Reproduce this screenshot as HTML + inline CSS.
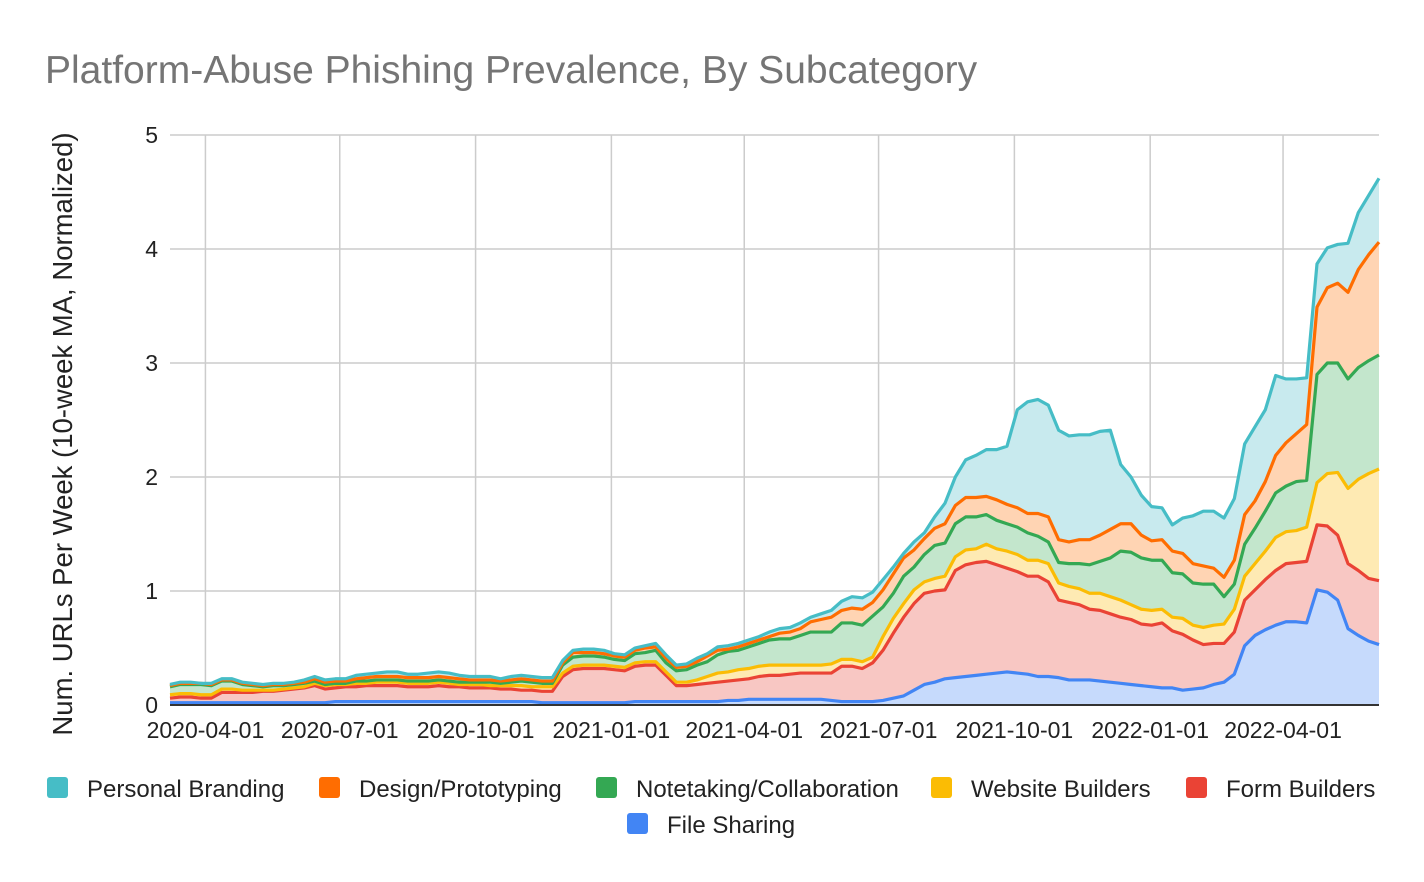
<!DOCTYPE html>
<html><head><meta charset="utf-8"><style>
body{margin:0;background:#fff;width:1424px;height:882px;overflow:hidden;font-family:"Liberation Sans",Arial,sans-serif;}
svg{display:block}
</style></head><body>
<svg id="chart" width="1424" height="882" xmlns="http://www.w3.org/2000/svg">
<text x="45" y="83" font-size="39" fill="#757575" font-family="Liberation Sans, sans-serif">Platform-Abuse Phishing Prevalence, By Subcategory</text>
<text transform="translate(72,434) rotate(-90)" text-anchor="middle" font-size="27.5" fill="#222" font-family="Liberation Sans, sans-serif">Num. URLs Per Week (10-week MA, Normalized)</text>
<g id="grid"></g><g id="areas"></g><g id="lines"></g><g id="axes"></g><g id="legend"></g>
</svg>
<script>
const startDate = "2020-03-08";
const yTickValues = [0,1,2,3,4,5];
const xTickLabels = ["2020-04-01","2020-07-01","2020-10-01","2021-01-01","2021-04-01","2021-07-01","2021-10-01","2022-01-01","2022-04-01"];
const seriesNames = ["File Sharing","Form Builders","Website Builders","Notetaking/Collaboration","Design/Prototyping","Personal Branding"];
const fileSharing = [0.02,0.02,0.02,0.02,0.02,0.02,0.02,0.02,0.02,0.02,0.02,0.02,0.02,0.02,0.02,0.02,0.03,0.03,0.03,0.03,0.03,0.03,0.03,0.03,0.03,0.03,0.03,0.03,0.03,0.03,0.03,0.03,0.03,0.03,0.03,0.03,0.02,0.02,0.02,0.02,0.02,0.02,0.02,0.02,0.02,0.03,0.03,0.03,0.03,0.03,0.03,0.03,0.03,0.03,0.04,0.04,0.05,0.05,0.05,0.05,0.05,0.05,0.05,0.05,0.04,0.03,0.03,0.03,0.03,0.04,0.06,0.08,0.13,0.18,0.20,0.23,0.24,0.25,0.26,0.27,0.28,0.29,0.28,0.27,0.25,0.25,0.24,0.22,0.22,0.22,0.21,0.20,0.19,0.18,0.17,0.16,0.15,0.15,0.13,0.14,0.15,0.18,0.20,0.27,0.52,0.61,0.66,0.70,0.73,0.73,0.72,1.01,0.99,0.92,0.67,0.61,0.56,0.53];
const formBuilders = [0.04,0.05,0.05,0.04,0.04,0.09,0.09,0.09,0.09,0.10,0.10,0.11,0.12,0.13,0.15,0.12,0.12,0.13,0.13,0.14,0.14,0.14,0.14,0.13,0.13,0.13,0.14,0.13,0.13,0.12,0.12,0.12,0.11,0.11,0.10,0.10,0.10,0.10,0.23,0.29,0.30,0.30,0.30,0.29,0.28,0.31,0.32,0.32,0.23,0.14,0.14,0.15,0.16,0.17,0.17,0.18,0.18,0.20,0.21,0.21,0.22,0.23,0.23,0.23,0.24,0.31,0.31,0.29,0.34,0.44,0.57,0.69,0.76,0.80,0.80,0.78,0.94,0.98,0.99,0.99,0.95,0.91,0.89,0.86,0.88,0.83,0.68,0.68,0.66,0.62,0.62,0.60,0.58,0.57,0.54,0.54,0.57,0.50,0.49,0.43,0.38,0.36,0.34,0.37,0.40,0.40,0.44,0.48,0.51,0.52,0.54,0.57,0.58,0.57,0.57,0.57,0.55,0.56];
const websiteBuilders = [0.03,0.03,0.03,0.03,0.03,0.03,0.03,0.02,0.02,0.01,0.01,0.01,0.01,0.01,0.02,0.03,0.03,0.02,0.03,0.02,0.03,0.03,0.03,0.03,0.03,0.03,0.03,0.03,0.02,0.03,0.03,0.02,0.03,0.03,0.04,0.03,0.04,0.04,0.03,0.03,0.03,0.03,0.03,0.03,0.03,0.03,0.03,0.03,0.03,0.03,0.03,0.04,0.06,0.08,0.08,0.09,0.09,0.09,0.09,0.09,0.08,0.07,0.07,0.07,0.08,0.06,0.06,0.06,0.05,0.12,0.13,0.12,0.12,0.10,0.11,0.12,0.12,0.13,0.12,0.15,0.14,0.15,0.15,0.14,0.14,0.16,0.15,0.14,0.14,0.14,0.15,0.15,0.15,0.13,0.13,0.13,0.12,0.12,0.14,0.13,0.15,0.16,0.17,0.20,0.21,0.23,0.25,0.29,0.28,0.28,0.30,0.37,0.46,0.55,0.66,0.80,0.92,0.98];
const notetaking = [0.07,0.08,0.08,0.09,0.08,0.07,0.07,0.05,0.04,0.03,0.04,0.03,0.03,0.03,0.02,0.01,0.01,0.01,0.02,0.02,0.02,0.02,0.02,0.02,0.02,0.02,0.02,0.02,0.02,0.02,0.02,0.03,0.02,0.03,0.04,0.04,0.03,0.03,0.07,0.08,0.08,0.08,0.07,0.06,0.06,0.08,0.08,0.10,0.08,0.10,0.11,0.13,0.13,0.16,0.18,0.17,0.19,0.20,0.22,0.23,0.23,0.26,0.29,0.29,0.28,0.32,0.32,0.32,0.36,0.26,0.22,0.24,0.20,0.24,0.29,0.29,0.29,0.29,0.28,0.26,0.25,0.24,0.24,0.24,0.21,0.19,0.18,0.20,0.22,0.25,0.28,0.34,0.43,0.46,0.45,0.44,0.43,0.39,0.39,0.37,0.38,0.36,0.24,0.22,0.28,0.31,0.35,0.39,0.40,0.43,0.41,0.95,0.97,0.96,0.96,0.98,0.99,1.00];
const designPrototyping = [0.01,0.01,0.01,0.01,0.01,0.01,0.01,0.01,0.01,0.01,0.01,0.01,0.01,0.01,0.02,0.02,0.02,0.02,0.02,0.03,0.03,0.03,0.03,0.03,0.03,0.03,0.03,0.03,0.03,0.02,0.02,0.02,0.02,0.02,0.02,0.02,0.02,0.02,0.02,0.04,0.03,0.03,0.03,0.03,0.03,0.03,0.04,0.03,0.04,0.03,0.03,0.03,0.05,0.04,0.02,0.03,0.03,0.03,0.03,0.05,0.06,0.06,0.09,0.11,0.13,0.11,0.13,0.14,0.12,0.15,0.17,0.16,0.15,0.14,0.15,0.17,0.16,0.17,0.17,0.16,0.18,0.17,0.17,0.17,0.20,0.22,0.20,0.19,0.21,0.22,0.23,0.25,0.24,0.25,0.20,0.17,0.18,0.19,0.18,0.17,0.16,0.14,0.17,0.21,0.26,0.24,0.26,0.33,0.38,0.42,0.49,0.59,0.66,0.70,0.76,0.86,0.93,0.99];
const personalBranding = [0.01,0.01,0.01,0.00,0.01,0.01,0.01,0.01,0.01,0.01,0.01,0.01,0.01,0.02,0.02,0.02,0.02,0.02,0.03,0.03,0.03,0.04,0.04,0.03,0.03,0.04,0.04,0.04,0.03,0.03,0.03,0.03,0.02,0.03,0.03,0.03,0.03,0.03,0.02,0.02,0.03,0.03,0.03,0.02,0.02,0.02,0.02,0.03,0.03,0.02,0.02,0.03,0.02,0.03,0.03,0.03,0.03,0.03,0.04,0.04,0.04,0.05,0.04,0.05,0.06,0.08,0.10,0.10,0.09,0.09,0.06,0.04,0.07,0.05,0.10,0.18,0.25,0.33,0.37,0.41,0.44,0.51,0.86,0.98,1.00,0.98,0.96,0.93,0.92,0.92,0.91,0.87,0.52,0.41,0.35,0.30,0.28,0.23,0.31,0.42,0.48,0.50,0.52,0.54,0.62,0.65,0.63,0.70,0.56,0.48,0.41,0.38,0.35,0.34,0.43,0.50,0.52,0.56];

const NS = "http://www.w3.org/2000/svg";
const X0 = 170, X1 = 1379, Y0 = 705, Y5 = 135;
const series = [fileSharing, formBuilders, websiteBuilders, notetaking, designPrototyping, personalBranding];
const lineColors = ["#4285f4","#ea4335","#fbbc04","#34a853","#ff6d01","#46bdc6"];
const fillColors = ["#c6dafc","#f8c7c3","#feeab3","#c3e6cc","#ffd4b3","#c8eaee"];
const slugs = ["file-sharing","form-builders","website-builders","notetaking-collaboration","design-prototyping","personal-branding"];
const nWeeks = fileSharing.length;
const DAY = 86400000;
const t0 = Date.parse(startDate);
const weekPx = (X1 - X0) / (nWeeks - 1);
function xWeek(i){ return X0 + i * weekPx; }
function xDate(s){ return X0 + (Date.parse(s) - t0) / DAY / 7 * weekPx; }
function yVal(v){ return Y0 - v * (Y0 - Y5) / 5; }
function mk(tag, attrs, parent){ const e=document.createElementNS(NS,tag); for(const k in attrs) e.setAttribute(k, attrs[k]); parent.appendChild(e); return e; }

const grid = document.getElementById('grid');
const axes = document.getElementById('axes');
yTickValues.forEach(v=>{
  if(v>0){ const l=mk('line',{x1:X0,x2:X1,y1:yVal(v),y2:yVal(v),stroke:'#cccccc','stroke-width':1.5},grid);
  
   }
  const t=mk('text',{x:158,y:yVal(v)+8,'text-anchor':'end','font-size':23,fill:'#222'},axes);
  t.textContent=v;
  
  
});
xTickLabels.forEach(d=>{
  const x=xDate(d);
  const l=mk('line',{x1:x,x2:x,y1:Y5,y2:Y0,stroke:'#cccccc','stroke-width':1.5},grid);
  
  
  const t=mk('text',{x:x,y:738,'text-anchor':'middle','font-size':23,fill:'#222'},axes);
  t.textContent=d;
  
  
});

const cum = [];
let prev = new Array(nWeeks).fill(0);
series.forEach(s=>{ const c = s.map((v,i)=>prev[i]+v); cum.push({lo:prev, hi:c}); prev=c; });
const areas=document.getElementById('areas'), lines=document.getElementById('lines');
cum.forEach((c,k)=>{
  let d='M'+xWeek(0)+','+yVal(c.hi[0]);
  for(let i=1;i<nWeeks;i++) d+=' L'+xWeek(i)+','+yVal(c.hi[i]);
  let back='';
  for(let i=nWeeks-1;i>=0;i--) back+=' L'+xWeek(i)+','+yVal(c.lo[i]);
  const a=mk('path',{d:d+back+' Z',fill:fillColors[k],stroke:'none'},areas);
  
  
  const l=mk('path',{d:d,fill:'none',stroke:lineColors[k],'stroke-width':3.2,'stroke-linejoin':'round'},lines);
  
  
});
const base=mk('line',{x1:X0,x2:X1,y1:Y0,y2:Y0,stroke:'#333','stroke-width':2},axes);



const legend=document.getElementById('legend');
const legendOrder=[[5,47,788],[4,319,788],[3,596,788],[2,931,788],[1,1186,788],[0,627,824]];
legendOrder.forEach(([k,x,y])=>{
  const g=mk('g',{},legend);
  
  
  mk('rect',{x:x,y:y-11,width:21,height:21,rx:3,fill:lineColors[k]},g);
  const t=mk('text',{x:x+40,y:y+9,'font-size':24,fill:'#222'},g);
  t.textContent=seriesNames[k];
});
</script>
</body></html>
